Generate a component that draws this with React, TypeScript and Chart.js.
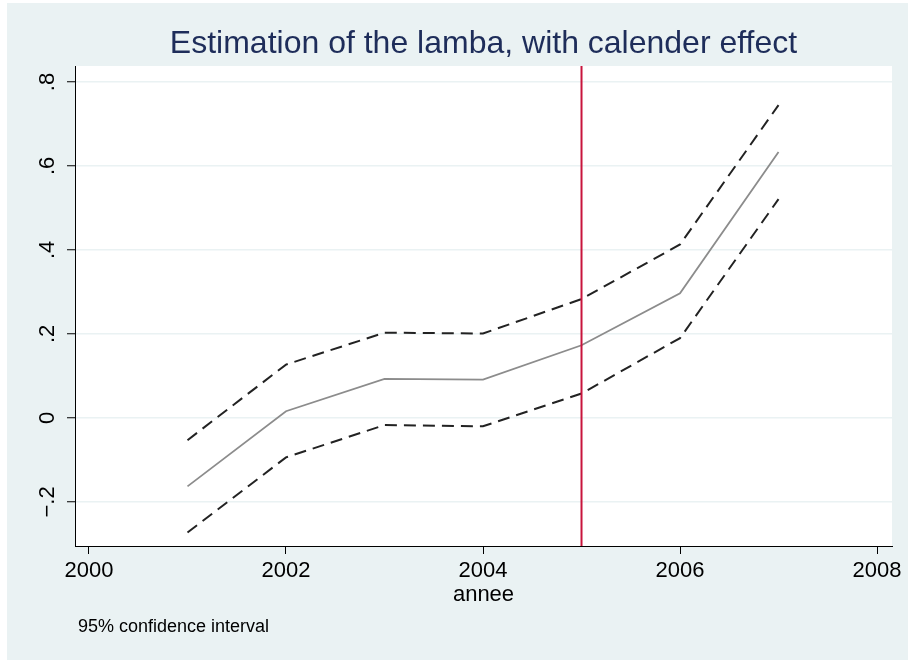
import React, { useEffect, useRef } from "react";
import { Chart, registerables } from "chart.js";

Chart.register(...registerables);

const YEARS = [2001, 2002, 2003, 2004, 2005, 2006, 2007];
const ESTIMATE = [-0.163, 0.016, 0.093, 0.091, 0.173, 0.297, 0.633];
const UPPER = [-0.053, 0.127, 0.203, 0.201, 0.283, 0.413, 0.745];
const LOWER = [-0.273, -0.094, -0.017, -0.02, 0.058, 0.19, 0.521];
const X_TICKS = [2000, 2002, 2004, 2006, 2008];
const Y_TICKS = [-0.2, 0, 0.2, 0.4, 0.6, 0.8];
const VLINE_YEAR = 2005;
const TITLE = "Estimation of the lamba, with calender effect";
const X_TITLE = "annee";
const NOTE = "95% confidence interval";

const FONT = '"Liberation Sans", Arial, sans-serif';
const BG = "#EAF2F3";

function fmtY(v: number): string {
  if (Math.abs(v) < 1e-9) return "0";
  const s = Math.abs(v).toFixed(1).replace(/^0/, "");
  return (v < 0 ? "\u2212" : "") + s;
}

const decorPlugin = {
  id: "decor",
  beforeDraw(chart: any) {
    const { ctx, chartArea, width, height } = chart;
    ctx.save();
    ctx.fillStyle = "#ffffff";
    ctx.fillRect(0, 0, width, height);
    ctx.fillStyle = BG;
    ctx.fillRect(7, 3, width - 7, height - 3);
    ctx.fillStyle = "#ffffff";
    ctx.fillRect(chartArea.left, chartArea.top, chartArea.right - chartArea.left, chartArea.bottom - chartArea.top);
    ctx.restore();
  },
  afterDatasetsDraw(chart: any) {
    const { ctx, chartArea } = chart;
    const x = chart.scales.x.getPixelForValue(VLINE_YEAR);
    ctx.save();
    ctx.strokeStyle = "#c8143c";
    ctx.lineWidth = 2;
    ctx.beginPath();
    ctx.moveTo(x, chartArea.top);
    ctx.lineTo(x, chartArea.bottom);
    ctx.stroke();
    ctx.restore();
  },
  afterDraw(chart: any) {
    const { ctx, chartArea } = chart;
    const cx = (chartArea.left + chartArea.right) / 2;
    ctx.save();
    // title
    ctx.fillStyle = "#1e2d5a";
    ctx.font = `32px ${FONT}`;
    ctx.textAlign = "center";
    ctx.textBaseline = "alphabetic";
    ctx.fillText(TITLE, cx, 53);
    // y tick labels rotated
    ctx.fillStyle = "#000";
    ctx.font = `22px ${FONT}`;
    const ys = chart.scales.y;
    for (const v of Y_TICKS) {
      const py = ys.getPixelForValue(v);
      ctx.save();
      ctx.translate(54, py);
      ctx.rotate(-Math.PI / 2);
      ctx.textAlign = "center";
      ctx.textBaseline = "alphabetic";
      ctx.fillText(fmtY(v), 0, 0);
      ctx.restore();
    }
    // x title
    ctx.textAlign = "center";
    ctx.fillText(X_TITLE, cx, 601);
    // note
    ctx.font = `18px ${FONT}`;
    ctx.textAlign = "left";
    ctx.fillText(NOTE, 78, 632);
    ctx.restore();
  },
};

export default function App() {
  const ref = useRef<HTMLCanvasElement | null>(null);
  useEffect(() => {
    document.body.style.margin = "0";
    const canvas = ref.current;
    if (!canvas) return;
    const chart = new Chart(canvas, {
      type: "line",
      data: {
        datasets: [
          {
            label: "upper",
            data: YEARS.map((x, i) => ({ x, y: UPPER[i] })),
            borderColor: "#222222",
            borderWidth: 2,
            borderDash: [12, 7],
            pointRadius: 0,
            tension: 0,
            fill: false,
          },
          {
            label: "lower",
            data: YEARS.map((x, i) => ({ x, y: LOWER[i] })),
            borderColor: "#222222",
            borderWidth: 2,
            borderDash: [12, 7],
            pointRadius: 0,
            tension: 0,
            fill: false,
          },
          {
            label: "estimate",
            data: YEARS.map((x, i) => ({ x, y: ESTIMATE[i] })),
            borderColor: "#8c8c8c",
            borderWidth: 1.8,
            pointRadius: 0,
            tension: 0,
            fill: false,
          },
        ],
      },
      options: {
        animation: false,
        responsive: false,
        devicePixelRatio: 1,
        layout: { padding: { top: 66, right: 16, left: 0, bottom: 0 } },
        plugins: {
          legend: { display: false },
          tooltip: { enabled: false },
          title: { display: false },
        },
        scales: {
          x: {
            type: "linear",
            min: 1999.858,
            max: 2008.152,
            afterBuildTicks: (s: any) => {
              s.ticks = X_TICKS.map((v) => ({ value: v }));
            },
            afterFit: (s: any) => {
              s.height = 114;
            },
            grid: {
              drawOnChartArea: false,
              drawTicks: true,
              tickLength: 8,
              tickColor: "#000",
              tickWidth: 1,
            },
            border: { display: true, color: "#000", width: 1 },
            ticks: {
              color: "#000",
              font: { family: FONT, size: 22 },
              padding: 4,
              maxRotation: 0,
              minRotation: 0,
              callback: (v: any) => String(v),
            },
          },
          y: {
            type: "linear",
            min: -0.305,
            max: 0.838,
            afterBuildTicks: (s: any) => {
              s.ticks = Y_TICKS.map((v) => ({ value: v }));
            },
            afterFit: (s: any) => {
              s.width = 75;
            },
            grid: {
              color: BG,
              lineWidth: 1.5,
              drawTicks: true,
              tickLength: 8,
              tickColor: "#000",
              tickWidth: 1,
            },
            border: { display: true, color: "#000", width: 1 },
            ticks: { display: false },
          },
        },
      },
      plugins: [decorPlugin],
    } as any);
    return () => chart.destroy();
  }, []);
  return (
    <canvas
      ref={ref}
      width={908}
      height={660}
      style={{ display: "block", width: 908, height: 660 }}
    />
  );
}
